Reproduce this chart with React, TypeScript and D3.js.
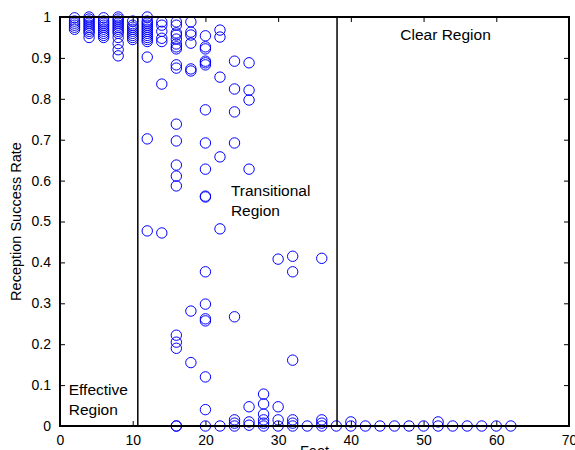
import React, { useRef, useEffect } from "react";
import * as d3 from "d3";

// distances in feet, one list of measured success rates per distance
const distances = [2, 4, 6, 8, 10, 12, 14, 16, 18, 20, 22, 24, 26, 28, 30, 32, 34, 36, 38, 40, 42, 44, 46, 48, 50, 52, 54, 56, 58, 60, 62];
const successRates = [
  [0.998, 0.99, 0.985, 0.98, 0.975, 0.97],
  [1.0, 0.995, 0.99, 0.985, 0.98, 0.975, 0.97, 0.965, 0.96, 0.95],
  [0.998, 0.99, 0.985, 0.98, 0.975, 0.97, 0.965, 0.96, 0.955, 0.95],
  [1.0, 0.995, 0.99, 0.985, 0.98, 0.975, 0.97, 0.965, 0.96, 0.95, 0.935, 0.92, 0.905],
  [0.99, 0.98, 0.975, 0.97, 0.965, 0.96, 0.955, 0.95, 0.945],
  [1.0, 0.99, 0.985, 0.98, 0.975, 0.97, 0.965, 0.96, 0.955, 0.95, 0.945, 0.94, 0.902, 0.702, 0.477],
  [0.988, 0.98, 0.965, 0.948, 0.94, 0.836, 0.472],
  [0.988, 0.98, 0.961, 0.956, 0.946, 0.934, 0.927, 0.922, 0.883, 0.875, 0.738, 0.697, 0.638, 0.611, 0.587, 0.222, 0.205, 0.19, 0.0, 0.0],
  [0.988, 0.963, 0.956, 0.936, 0.873, 0.868, 0.281, 0.155],
  [0.954, 0.927, 0.922, 0.892, 0.888, 0.883, 0.773, 0.692, 0.628, 0.562, 0.56, 0.377, 0.298, 0.262, 0.257, 0.12, 0.04, 0.0],
  [0.968, 0.951, 0.853, 0.658, 0.482, 0.0],
  [0.892, 0.824, 0.768, 0.692, 0.267, 0.015, 0.007, 0.0],
  [0.888, 0.821, 0.797, 0.628, 0.047, 0.01, 0.002],
  [0.078, 0.054, 0.029, 0.015, 0.007, 0.0],
  [0.408, 0.047, 0.015, 0.0],
  [0.415, 0.377, 0.161, 0.015, 0.007, 0.0],
  [0.0],
  [0.41, 0.015, 0.007, 0.0],
  [0.0],
  [0.01, 0.0],
  [0.0], [0.0], [0.0], [0.0], [0.0],
  [0.01, 0.0],
  [0.0], [0.0], [0.0], [0.0], [0.0],
];

// region boundaries (feet) and labels
const boundaries = [10.7, 38.1];
const regionLabels = [
  { lines: ["Effective", "Region"], x: 1.2, y: 0.076 },
  { lines: ["Transitional", "Region"], x: 23.5, y: 0.562 },
  { lines: ["Clear Region"], x: 46.8, y: 0.944 },
];
const xTicks = [0, 10, 20, 30, 40, 50, 60, 70];
const yTicks = [0, 0.1, 0.2, 0.3, 0.4, 0.5, 0.6, 0.7, 0.8, 0.9, 1];

const margin = { top: 17, right: 6, bottom: 24, left: 60 };
const width = 575;
const height = 450;

const App = () => {
  const svgRef = useRef<SVGSVGElement>(null);

  useEffect(() => {
    const innerW = width - margin.left - margin.right;
    const innerH = height - margin.top - margin.bottom;
    const x = d3.scaleLinear().domain([0, 70]).range([0, innerW]);
    const y = d3.scaleLinear().domain([0, 1]).range([innerH, 0]);

    const svgEl = d3.select(svgRef.current);
    svgEl.selectAll("*").remove();
    const svg = svgEl
      .append("g")
      .attr("transform", `translate(${margin.left},${margin.top})`)
      .style("font-family", "Liberation Sans, Arial, sans-serif");

    // points
    const points = distances.flatMap((d, i) => successRates[i].map((r) => ({ d, r })));
    svg
      .selectAll(".pt")
      .data(points)
      .enter()
      .append("circle")
      .attr("cx", (p) => x(p.d))
      .attr("cy", (p) => y(p.r))
      .attr("r", 5.2)
      .attr("fill", "none")
      .attr("stroke", "#0000ff")
      .attr("stroke-width", 1);

    // region boundaries
    svg
      .selectAll(".bound")
      .data(boundaries)
      .enter()
      .append("line")
      .attr("x1", (d) => x(d))
      .attr("x2", (d) => x(d))
      .attr("y1", 0)
      .attr("y2", innerH)
      .attr("stroke", "black")
      .attr("stroke-width", 1.5);

    // region labels
    regionLabels.forEach((l) => {
      const t = svg
        .append("text")
        .attr("x", x(l.x))
        .attr("y", y(l.y))
        .attr("font-size", 15.5)
        .attr("fill", "black");
      l.lines.forEach((s, i) => {
        t.append("tspan").attr("x", x(l.x)).attr("dy", i === 0 ? 0 : 20).text(s);
      });
    });

    // axes, MATLAB style ticks inside on all sides
    const styleAxis = (g: any) => {
      g.select(".domain").remove();
      g.selectAll("line").attr("stroke", "black").attr("stroke-width", 1);
      g.selectAll("text").attr("font-size", 14).attr("fill", "black").style("font-family", "Liberation Sans, Arial, sans-serif");
    };
    svg.append("g").attr("transform", `translate(0,${innerH})`)
      .call(d3.axisBottom(x).tickValues(xTicks).tickSize(-5).tickPadding(9).tickFormat(d3.format("d")))
      .call(styleAxis);
    svg.append("g")
      .call(d3.axisTop(x).tickValues(xTicks).tickSize(-5).tickFormat(() => ""))
      .call(styleAxis);
    svg.append("g")
      .call(d3.axisLeft(y).tickValues(yTicks).tickSize(-5).tickPadding(9).tickFormat((v: any) => (v === 0 || v === 1 ? `${v}` : d3.format(".1f")(v))))
      .call(styleAxis);
    svg.append("g").attr("transform", `translate(${innerW},0)`)
      .call(d3.axisRight(y).tickValues(yTicks).tickSize(-5).tickFormat(() => ""))
      .call(styleAxis);

    // box
    svg.append("rect")
      .attr("width", innerW)
      .attr("height", innerH)
      .attr("fill", "none")
      .attr("stroke", "black")
      .attr("stroke-width", 2);

    // axis titles
    svg.append("text")
      .attr("x", innerW / 2)
      .attr("y", innerH + 30)
      .attr("text-anchor", "middle")
      .attr("font-size", 14.5)
      .text("Feet");
    svg.append("text")
      .attr("transform", `translate(${-39},${innerH / 2}) rotate(-90)`)
      .attr("text-anchor", "middle")
      .attr("font-size", 14.5)
      .text("Reception Success Rate");
  }, []);

  return (
    <svg
      ref={svgRef}
      width={width}
      height={height}
      style={{ position: "absolute", left: 0, top: 0, background: "white" }}
    />
  );
};

export default App;
